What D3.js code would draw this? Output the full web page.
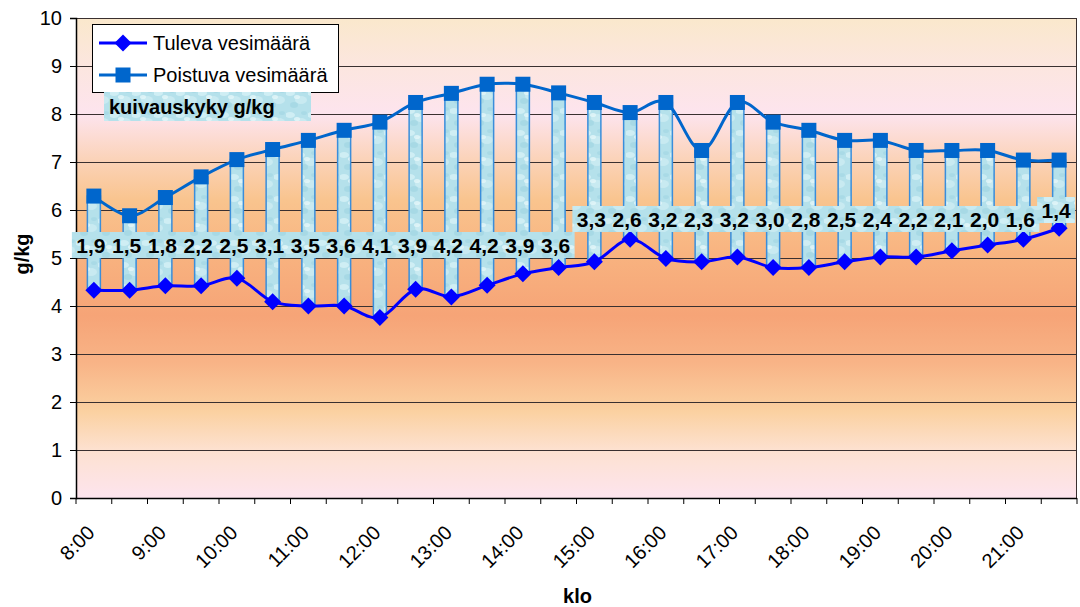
<!DOCTYPE html>
<html>
<head>
<meta charset="utf-8">
<script src="https://cdn.jsdelivr.net/npm/d3@7"></script>
<style>
  body { margin: 0; background: #fff; }
  svg text { font-family: "Liberation Sans", Arial, sans-serif; }
</style>
</head>
<body>
<svg id="chart" width="1080" height="607"></svg>
<script>
// data
var categories = ["8:00","8:30","9:00","9:30","10:00","10:30","11:00","11:30","12:00","12:30",
  "13:00","13:30","14:00","14:30","15:00","15:30","16:00","16:30","17:00","17:30",
  "18:00","18:30","19:00","19:30","20:00","20:30","21:00","21:30"];
var tuleva = [4.33,4.33,4.42,4.42,4.58,4.09,4.0,4.0,3.76,4.35,4.19,4.43,4.67,4.80,
  4.92,5.39,4.99,4.92,5.02,4.80,4.80,4.92,5.02,5.02,5.15,5.27,5.39,5.62];
var poistuva = [6.29,5.88,6.26,6.69,7.05,7.26,7.45,7.66,7.83,8.24,8.43,8.62,8.62,8.44,
  8.24,8.03,8.24,7.24,8.24,7.83,7.66,7.45,7.45,7.24,7.24,7.24,7.04,7.04];
var kuivauskyky = [1.9,1.5,1.8,2.2,2.5,3.1,3.5,3.6,4.1,3.9,4.2,4.2,3.9,3.6,
  3.3,2.6,3.2,2.3,3.2,3.0,2.8,2.5,2.4,2.2,2.1,2.0,1.6,1.4];
var yTicks = [0,1,2,3,4,5,6,7,8,9,10];
var xLabels = ["8:00","9:00","10:00","11:00","12:00","13:00","14:00","15:00","16:00","17:00","18:00","19:00","20:00","21:00"];
var seriesNames = ["Tuleva vesimäärä", "Poistuva vesimäärä"];

// svg parameters
var svg = d3.select("#chart"),
    margin = {top: 18, right: 3, bottom: 109, left: 76},
    width = +svg.attr("width") - margin.left - margin.right,
    height = +svg.attr("height") - margin.top - margin.bottom;

var x = d3.scaleBand().domain(categories).range([0, width]).padding(0),
    y = d3.scaleLinear().domain([0, 10]).range([height, 0]);
var cx = function(i) { return x(categories[i]) + x.bandwidth() / 2; };

// defs: background gradient and water texture
var defs = svg.append("defs");
var grad = defs.append("linearGradient").attr("id", "bg")
  .attr("x1", 0).attr("y1", 0).attr("x2", 0).attr("y2", 1);
[[0, "#fae8cc"], [0.1, "#fce6df"], [0.2, "#fde4ee"], [0.3, "#fbd2b6"], [0.38, "#f9c48e"],
 [0.5, "#f8b27f"], [0.62, "#f6a477"], [0.72, "#f8b487"], [0.82, "#fbd1a1"], [0.9, "#fde1d0"], [1, "#fde4ee"]]
  .forEach(function(s) { grad.append("stop").attr("offset", s[0]).attr("stop-color", s[1]); });

var pat = defs.append("pattern").attr("id", "water")
  .attr("patternUnits", "userSpaceOnUse").attr("width", 22).attr("height", 22);
pat.append("rect").attr("width", 22).attr("height", 22).attr("fill", "#b5e1eb");
[[4, 5, 5, 3, "#d6f1f6", 0.8], [15, 12, 6, 4, "#d0eef4", 0.7], [8, 17, 4, 3, "#9ed3e1", 0.6],
 [18, 3, 3, 2, "#9ed3e1", 0.5], [11, 9, 3, 2, "#e4f6f9", 0.8]]
  .forEach(function(e) {
    pat.append("ellipse").attr("cx", e[0]).attr("cy", e[1]).attr("rx", e[2]).attr("ry", e[3])
      .attr("fill", e[4]).attr("opacity", e[5]);
  });

var g = svg.append("g")
  .attr("transform", "translate(" + margin.left + "," + margin.top + ")");

// plot area
g.append("rect").attr("width", width).attr("height", height).attr("fill", "url(#bg)");

// gridlines
g.append("g").selectAll("line").data(yTicks.slice(1)).enter().append("line")
  .attr("x1", 0).attr("x2", width)
  .attr("y1", function(d) { return y(d) + 0.5; }).attr("y2", function(d) { return y(d) + 0.5; })
  .attr("stroke", "#3a3030").attr("stroke-width", 1);
g.append("line").attr("x1", width - 0.5).attr("x2", width - 0.5).attr("y1", 0).attr("y2", height)
  .attr("stroke", "#3a3030");

// y axis
var yAxis = g.append("g").call(d3.axisLeft(y).tickValues(yTicks).tickSize(6).tickPadding(8));
yAxis.select(".domain").attr("stroke", "#000").attr("stroke-width", 1.5);
yAxis.selectAll(".tick line").attr("stroke", "#000");
yAxis.selectAll("text").attr("font-size", 20).attr("fill", "#000")
  .attr("font-family", "'Liberation Sans', Arial, sans-serif");

// x axis: tick marks at category boundaries, labels every hour
var bounds = d3.range(categories.length + 1).map(function(i) { return i * x.bandwidth(); });
var xg = g.append("g").attr("transform", "translate(0," + height + ")");
xg.append("line").attr("x1", 0).attr("x2", width).attr("y1", 0.5).attr("y2", 0.5)
  .attr("stroke", "#000").attr("stroke-width", 1.5);
xg.selectAll(".tk").data(bounds).enter().append("line").attr("class", "tk")
  .attr("x1", function(d) { return d; }).attr("x2", function(d) { return d; })
  .attr("y1", 0).attr("y2", 6).attr("stroke", "#000");
xg.selectAll(".lbl").data(xLabels).enter().append("text").attr("class", "lbl")
  .attr("transform", function(d) {
    return "translate(" + (x(d) + x.bandwidth() / 2 - 3) + ",31) rotate(-45)";
  })
  .attr("text-anchor", "end").attr("dy", "0.35em")
  .attr("font-size", 20).attr("fill", "#000")
  .text(function(d) { return d; });

// axis titles
svg.append("text").attr("transform", "translate(29,254) rotate(-90)")
  .attr("text-anchor", "middle").attr("font-size", 20).attr("font-weight", "bold")
  .text("g/kg");
svg.append("text").attr("x", margin.left + width / 2 + 1).attr("y", 603)
  .attr("text-anchor", "middle").attr("font-size", 20).attr("font-weight", "bold")
  .text("klo");

// up-down bars between the two series
var barW = 13;
g.append("g").selectAll("rect").data(categories).enter().append("rect")
  .attr("x", function(d, i) { return cx(i) - barW / 2; })
  .attr("y", function(d, i) { return y(poistuva[i]); })
  .attr("width", barW)
  .attr("height", function(d, i) { return y(tuleva[i]) - y(poistuva[i]); })
  .attr("fill", "url(#water)").attr("stroke", "#3a8edb").attr("stroke-width", 1.5);

// lines
var line = function(vals) {
  return d3.line()
    .x(function(d, i) { return cx(i); })
    .y(function(d) { return y(d); })
    .curve(d3.curveCardinal.tension(0))(vals);
};
g.append("path").attr("d", line(poistuva)).attr("fill", "none")
  .attr("stroke", "#0066cc").attr("stroke-width", 3);
g.append("path").attr("d", line(tuleva)).attr("fill", "none")
  .attr("stroke", "#0000ff").attr("stroke-width", 3);

// markers
var diamond = function(px, py, r) {
  return "M" + px + "," + (py - r) + "L" + (px + r) + "," + py + "L" + px + "," + (py + r) + "L" + (px - r) + "," + py + "Z";
};
g.append("g").selectAll("rect").data(poistuva).enter().append("rect")
  .attr("x", function(d, i) { return cx(i) - 7.5; })
  .attr("y", function(d) { return y(d) - 7.5; })
  .attr("width", 15).attr("height", 15).attr("fill", "#0066cc");
g.append("g").selectAll("path").data(tuleva).enter().append("path")
  .attr("d", function(d, i) { return diamond(cx(i), y(d), 8.5); })
  .attr("fill", "#0000ff");

// data labels (kuivauskyky), placed in bands like the original
var labelY = function(i) { return i < 14 ? 227 : (i < 27 ? 201 : 192); };
var lab = g.append("g");
lab.selectAll("rect").data(kuivauskyky).enter().append("rect")
  .attr("x", function(d, i) { return cx(i) - 3 - 19; })
  .attr("y", function(d, i) { return labelY(i) - 13; })
  .attr("width", 38).attr("height", 26).attr("fill", "url(#water)");
lab.selectAll("text").data(kuivauskyky).enter().append("text")
  .attr("x", function(d, i) { return cx(i) - 3; })
  .attr("y", function(d, i) { return labelY(i) + 7.5; })
  .attr("text-anchor", "middle").attr("font-size", 21).attr("font-weight", "bold")
  .text(function(d) { return d3.format(".1f")(d).replace(".", ","); });

// legend
var leg = svg.append("g").attr("transform", "translate(92,24)");
leg.append("rect").attr("x", 0.5).attr("y", 0.5).attr("width", 246).attr("height", 68)
  .attr("fill", "#fff").attr("stroke", "#000");
leg.append("line").attr("x1", 7).attr("x2", 55).attr("y1", 19).attr("y2", 19)
  .attr("stroke", "#0000ff").attr("stroke-width", 3);
leg.append("path").attr("d", diamond(31, 19, 8.5)).attr("fill", "#0000ff");
leg.append("line").attr("x1", 7).attr("x2", 55).attr("y1", 51).attr("y2", 51)
  .attr("stroke", "#0066cc").attr("stroke-width", 3);
leg.append("rect").attr("x", 23.5).attr("y", 43.5).attr("width", 15).attr("height", 15).attr("fill", "#0066cc");
leg.selectAll(".lt").data(seriesNames).enter().append("text").attr("class", "lt")
  .attr("x", 61).attr("y", function(d, i) { return 26 + i * 32; })
  .attr("font-size", 20).text(function(d) { return d; });

// title box
svg.append("rect").attr("x", 104).attr("y", 92).attr("width", 207).attr("height", 29)
  .attr("fill", "url(#water)");
svg.append("text").attr("x", 109).attr("y", 114).attr("font-size", 20).attr("font-weight", "bold")
  .text("kuivauskyky g/kg");
</script>
</body>
</html>
